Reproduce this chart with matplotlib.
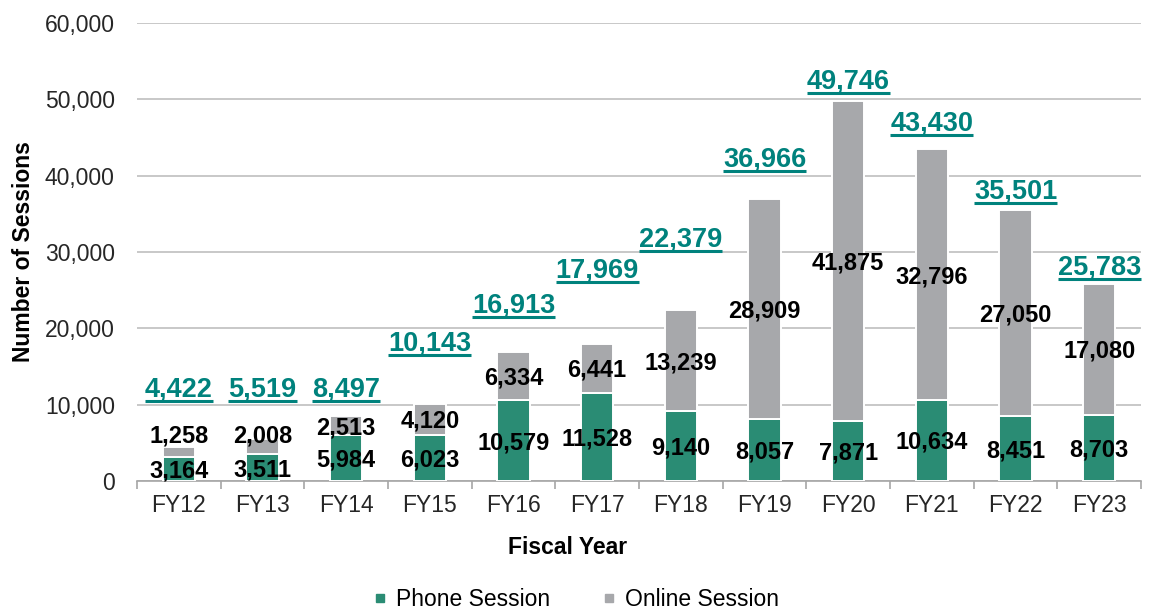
import matplotlib
matplotlib.use("Agg")
import matplotlib.pyplot as plt
import numpy as np
from matplotlib.lines import Line2D

years = ["FY12", "FY13", "FY14", "FY15", "FY16", "FY17", "FY18", "FY19", "FY20", "FY21", "FY22", "FY23"]
phone = [3164, 3511, 5984, 6023, 10579, 11528, 9140, 8057, 7871, 10634, 8451, 8703]
online = [1258, 2008, 2513, 4120, 6334, 6441, 13239, 28909, 41875, 32796, 27050, 17080]
totals = [4422, 5519, 8497, 10143, 16913, 17969, 22379, 36966, 49746, 43430, 35501, 25783]
# heights (data units) at which the total labels sit in the reference
total_label_y = [12300, 12300, 12300, 18340, 23320, 27900, 31970, 42450, 52670, 47160, 38260, 28300]
yticks = [0, 10000, 20000, 30000, 40000, 50000, 60000]

GREEN = "#2a8c74"
GRAY = "#a7a8ab"
TEAL = "#00827d"
FONT = "Liberation Sans"

plt.rcParams["font.family"] = [FONT, "DejaVu Sans"]

fig = plt.figure(figsize=(11.54, 6.12), dpi=100)
ax = fig.add_axes([137 / 1154, 1 - 481 / 612, (1141 - 137) / 1154, (481 - 23) / 612])

x = np.arange(len(years))
w = 0.39
ax.bar(x, phone, width=w, color=GREEN, edgecolor="white", linewidth=1.4, zorder=3, label="Phone Session")
ax.bar(x, online, width=w, bottom=phone, color=GRAY, edgecolor="white", linewidth=1.4, zorder=3, label="Online Session")

ax.set_xlim(-0.5, len(years) - 0.5)
ax.set_ylim(0, 60000)
ax.set_yticks(yticks)
ax.set_yticklabels([f"{v:,}" for v in yticks])
ax.yaxis.grid(True, color="#bfbfbf", linewidth=1.2, zorder=0)
ax.set_axisbelow(True)
for s in ["top", "right", "left"]:
    ax.spines[s].set_visible(False)
ax.spines["bottom"].set_color("#a6a6a6")
ax.spines["bottom"].set_linewidth(1.2)
ax.tick_params(axis="y", length=0, pad=16, labelsize=16.5, labelcolor="#262626")
ax.set_xticks(x)
ax.set_xticklabels(years)
ax.set_xticks(np.arange(-0.5, len(years), 1), minor=True)
ax.tick_params(axis="x", which="major", length=0, pad=9, labelsize=16.5, labelcolor="#262626")
ax.tick_params(axis="x", which="minor", length=6, width=1.2, color="#a6a6a6")

ax.set_ylabel("Number of Sessions", fontsize=16.5, fontweight="bold", labelpad=7)
fig.text(568 / 1154, 1 - 548 / 612, "Fiscal Year", ha="center", va="center", fontsize=16.5, fontweight="bold")

lab_fs = 17
cap_off = -0.358 * lab_fs
for i in range(len(years)):
    ax.annotate(f"{phone[i]:,}", (x[i], phone[i] / 2), xytext=(0, cap_off), textcoords="offset points",
                ha="center", va="baseline", fontsize=lab_fs, fontweight="bold", color="black", zorder=5)
    oy = max(phone[i] + online[i] / 2, 6150)
    ax.annotate(f"{online[i]:,}", (x[i], oy), xytext=(0, cap_off), textcoords="offset points",
                ha="center", va="baseline", fontsize=lab_fs, fontweight="bold", color="black", zorder=5)

tot_fs = 19.5
tot_texts = []
for i in range(len(years)):
    t = ax.annotate(f"{totals[i]:,}", (x[i], total_label_y[i]), xytext=(0, -0.358 * tot_fs),
                    textcoords="offset points", ha="center", va="baseline", fontsize=tot_fs,
                    fontweight="bold", color=TEAL, zorder=5)
    tot_texts.append(t)

fig.canvas.draw()
r = fig.canvas.get_renderer()
inv = fig.transFigure.inverted()
for i, t in enumerate(tot_texts):
    bb = t.get_window_extent(r)
    bx, by = ax.transData.transform((x[i], total_label_y[i]))
    by = by - 0.358 * tot_fs * fig.dpi / 72
    yline = by - 4.5
    p0 = inv.transform((bb.x0, yline))
    p1 = inv.transform((bb.x1, yline))
    fig.add_artist(Line2D([p0[0], p1[0]], [p0[1], p1[1]], color=TEAL, linewidth=2.2, solid_capstyle="butt"))

handles = [Line2D([], [], marker="s", linestyle="none", markersize=6, color=GREEN),
           Line2D([], [], marker="s", linestyle="none", markersize=6, color=GRAY)]
fig.legend(handles, ["Phone Session", "Online Session"], loc="center", bbox_to_anchor=(575 / 1154, 1 - 600 / 612),
           ncol=2, frameon=False, fontsize=16.5, handletextpad=0.3, columnspacing=2.2, handlelength=0.8)

fig.savefig("out.png", dpi=100)
